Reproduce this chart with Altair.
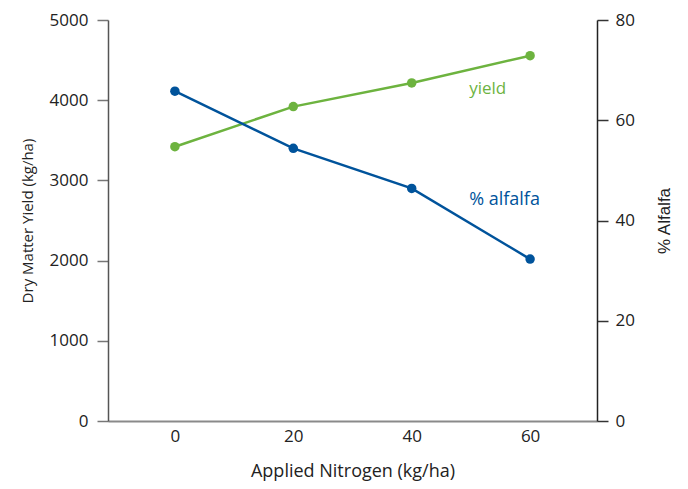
import altair as alt
import pandas as pd

nitrogen = [0, 20, 40, 60]
yield_kg = [3420, 3920, 4215, 4555]
pct_alfalfa = [65.8, 54.4, 46.4, 32.3]

label_text = ["yield", "% alfalfa"]
label_x = [49.7, 49.7]
label_yield = [4140, None]
label_alf = [None, 44.0]

GREEN = "#6db33f"
BLUE = "#00539b"
FONT = "Open Sans"

df = pd.DataFrame({"n": nitrogen, "y": yield_kg, "a": pct_alfalfa})

xscale = alt.Scale(domain=[-11.3, 71.3], nice=False, zero=False)
xenc = alt.X("n:Q", scale=xscale,
             axis=alt.Axis(values=nitrogen, format="d", title="Applied Nitrogen (kg/ha)", grid=False,
                           ticks=False, labelPadding=7, titlePadding=18,
                           domainColor="#8a8a8a", domainWidth=2, labelFontSize=17,
                           titleFontSize=18, labelColor="#222", titleColor="#222",
                           labelFont=FONT, titleFont=FONT, titleFontWeight="normal"))

yl_scale = alt.Scale(domain=[0, 5000], nice=False)
ya_scale = alt.Scale(domain=[0, 80], nice=False)

left_axis = alt.Axis(values=[0, 1000, 2000, 3000, 4000, 5000], format="d", title="Dry Matter Yield (kg/ha)",
                     grid=False, tickSize=11, tickColor="#777", tickWidth=1.5,
                     labelPadding=9, domainColor="#555", domainWidth=1.5,
                     labelFontSize=17, titleFontSize=15, labelColor="#222", titleColor="#222",
                     labelFont=FONT, titleFont=FONT, titleFontWeight="normal", titlePadding=14)
right_axis = alt.Axis(values=[0, 20, 40, 60, 80], format="d", title="% Alfalfa", orient="right",
                      grid=False, tickSize=11, tickColor="#333", tickWidth=1.5,
                      labelPadding=7, domainColor="#222", domainWidth=1.5,
                      labelFontSize=17, titleFontSize=17, labelColor="#222", titleColor="#222",
                      labelFont=FONT, titleFont="Liberation Sans", titleFontWeight="normal",
                      titleAngle=270, titleBaseline="bottom", titlePadding=39)

base = alt.Chart(df)
g_line = base.mark_line(color=GREEN, strokeWidth=2.5).encode(x=xenc, y=alt.Y("y:Q", scale=yl_scale, axis=left_axis))
g_pts = base.mark_circle(color=GREEN, size=90, opacity=1).encode(x=alt.X("n:Q", scale=xscale), y=alt.Y("y:Q", scale=yl_scale))
b_line = base.mark_line(color=BLUE, strokeWidth=2.5).encode(x=alt.X("n:Q", scale=xscale), y=alt.Y("a:Q", scale=ya_scale, axis=right_axis))
b_pts = base.mark_circle(color=BLUE, size=90, opacity=1).encode(x=alt.X("n:Q", scale=xscale), y=alt.Y("a:Q", scale=ya_scale))

lab_y = pd.DataFrame({"t": [label_text[0]], "x": [label_x[0]], "v": [label_yield[0]]})
lab_a = pd.DataFrame({"t": [label_text[1]], "x": [label_x[1]], "v": [label_alf[1]]})
t_y = alt.Chart(lab_y).mark_text(color=GREEN, fontSize=17, font=FONT, align="left", baseline="middle").encode(
    x=alt.X("x:Q", scale=xscale), y=alt.Y("v:Q", scale=yl_scale), text="t:N")
t_a = alt.Chart(lab_a).mark_text(color=BLUE, fontSize=18, font=FONT, align="left", baseline="middle").encode(
    x=alt.X("x:Q", scale=xscale), y=alt.Y("v:Q", scale=ya_scale), text="t:N")

left = alt.layer(g_line, g_pts, t_y)
right = alt.layer(b_line, b_pts, t_a)

chart = alt.layer(left, right).resolve_scale(y="independent").properties(
    width=489, height=401,
    autosize=alt.AutoSizeParams(type="none"),
    padding={"left": 100, "top": 12, "right": 83, "bottom": 60},
).configure_view(stroke=None)

chart.save("out.html", embed_options={"renderer": "svg", "actions": False})
